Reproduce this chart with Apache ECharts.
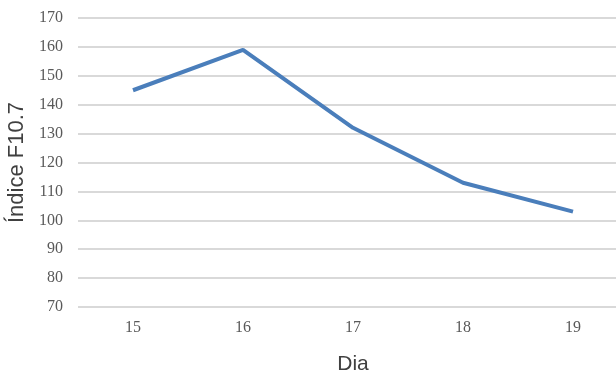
<!DOCTYPE html>
<html>
<head>
<meta charset="utf-8">
<script src="https://cdn.jsdelivr.net/npm/echarts@6/dist/echarts.min.js"></script>
<style>
  html, body { margin: 0; padding: 0; background: #fff; }
  #chart { width: 616px; height: 374px; }
</style>
</head>
<body>
<div id="chart"></div>
<script>
// Days and daily F10.7 index values
const days = ['15', '16', '17', '18', '19'];
const f107 = [145, 159, 132, 113, 103];

const chart = echarts.init(document.getElementById('chart'));
chart.setOption({
  animation: false,
  // plot area runs slightly past the right edge of the canvas
  grid: { left: 78, top: 18, width: 550, height: 289, outerBoundsMode: 'none', containLabel: false },
  xAxis: {
    type: 'category',
    data: days,
    boundaryGap: true,
    name: 'Dia',
    nameLocation: 'middle',
    nameGap: 47,
    nameTextStyle: { fontFamily: 'Liberation Sans', fontSize: 21, color: '#404040' },
    axisLine: { show: false },
    axisTick: { show: false },
    axisLabel: { fontFamily: 'Liberation Serif', fontSize: 16, color: '#595959', margin: 13 }
  },
  yAxis: {
    type: 'value',
    min: 70,
    max: 170,
    interval: 10,
    name: 'Índice F10.7',
    nameLocation: 'middle',
    nameGap: 49,
    nameTextStyle: { fontFamily: 'Liberation Sans', fontSize: 22, color: '#404040' },
    axisLine: { show: false },
    axisTick: { show: false },
    axisLabel: { fontFamily: 'Liberation Serif', fontSize: 16, color: '#595959', margin: 15 },
    splitLine: { lineStyle: { color: '#d9d9d9', width: 2 } }
  },
  series: [{
    type: 'line',
    data: f107,
    symbol: 'none',
    lineStyle: { color: '#4a7ebb', width: 4 },
    itemStyle: { color: '#4a7ebb' }
  }]
});
</script>
</body>
</html>
